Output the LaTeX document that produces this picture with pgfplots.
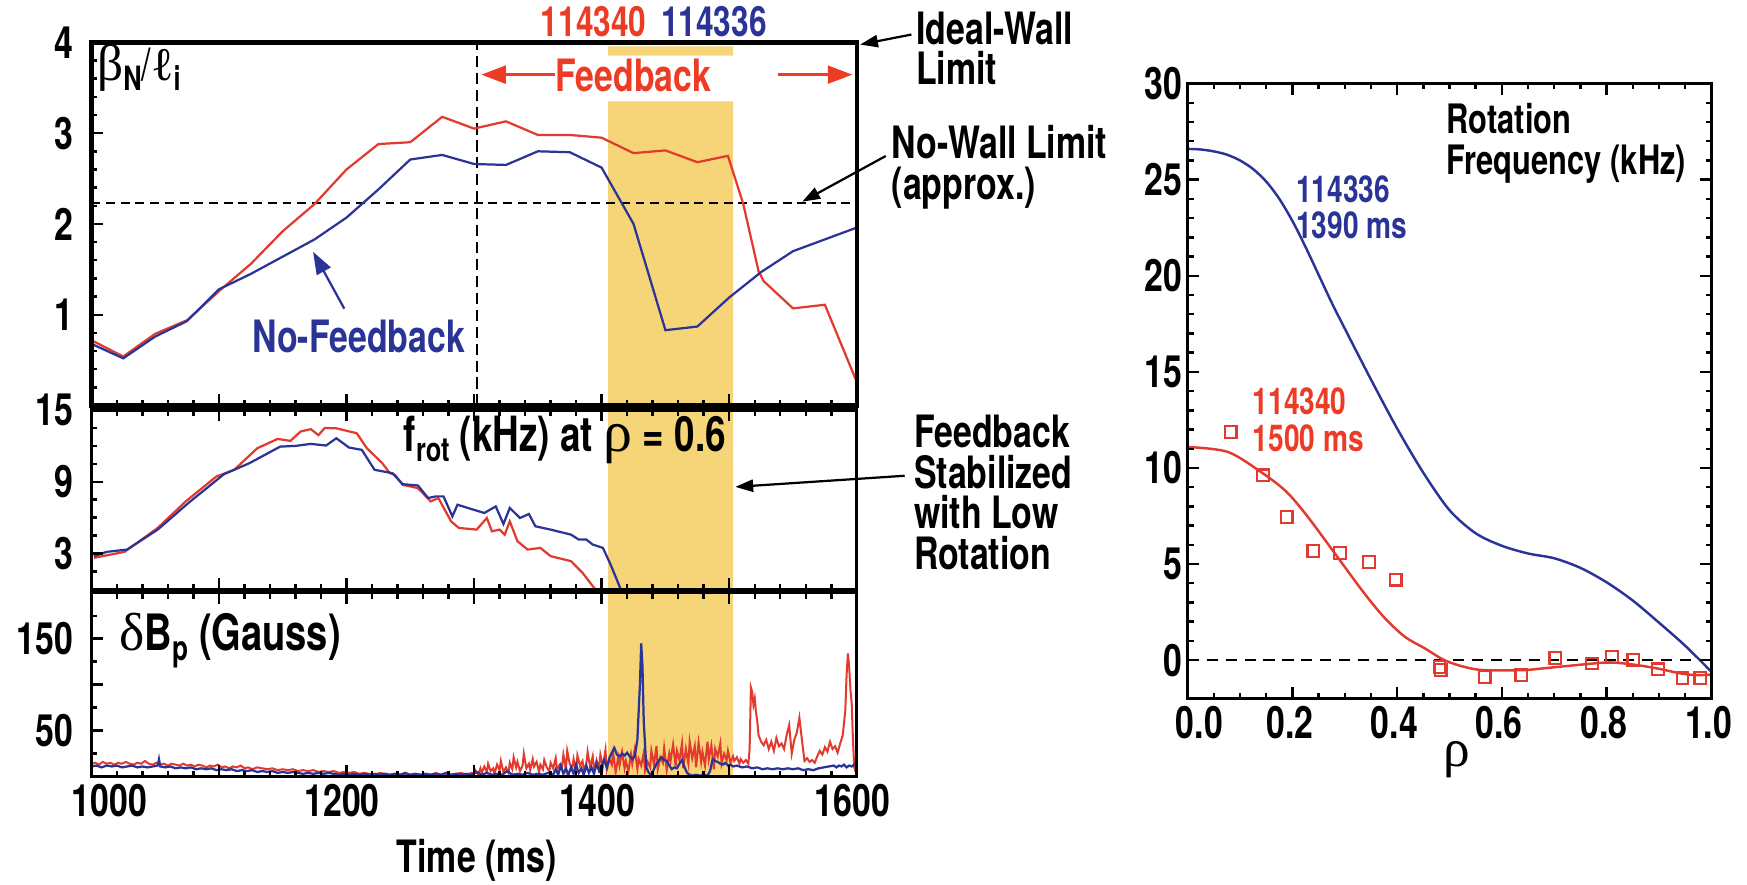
\documentclass[border=0pt]{standalone}
\usepackage{fontspec}
\usepackage{pgfplots}
\pgfplotsset{compat=1.18}
\usetikzlibrary{arrows.meta}

\setmainfont{TeX Gyre Heros}[FakeStretch=0.76]
\newfontfamily\hv{TeX Gyre Heros}[FakeStretch=0.76]
\newfontfamily\gr{Liberation Serif}

\definecolor{shotred}{RGB}{226,58,46}
\definecolor{shotblue}{RGB}{42,52,150}
\definecolor{txtred}{RGB}{236,60,38}
\definecolor{band}{RGB}{246,213,120}

\newcommand\lab{\hv\bfseries\fontsize{20}{20}\selectfont}
\newcommand\ann{\hv\bfseries\fontsize{20}{18.2}\selectfont}

\pgfplotsset{
  panel/.style={
    scale only axis, axis on top,
    axis line style={line width=1.4pt},
    every tick/.style={black, line width=1.1pt},
    major tick length=5pt, minor tick length=2.6pt,
    tick label style={font=\lab},
    /pgf/number format/assume math mode=true,
    /pgf/number format/1000 sep={},
  },
  timeaxis/.style={
    xmin=1000, xmax=1600,
    xtick={1000,1100,1200,1300,1400,1500,1600},
    minor x tick num=4,
    width=343.5pt,
    yticklabel style={xshift=-4.5pt},
  },
}

\begin{document}
\begin{tikzpicture}
\useasboundingbox (0,0) rectangle (784pt,-397pt);

% ---------- beta_N / l_i ----------
\begin{axis}[panel, timeaxis, at={(41pt,-19pt)}, anchor=north west, height=163pt,
  ymin=0, ymax=4, xticklabels={}, xtick pos=left,
  ytick={0,1,2,3,4}, yticklabels={,1,2,3,4}, minor y tick num=4, ytick pos=left,
  axis line style={line width=2pt}]
  \addplot[fill=band, draw=none] coordinates {(1405,0)(1503,0)(1503,3.35)(1405,3.35)(1405,0)};
  \addplot[fill=band, draw=none] coordinates {(1405,3.853)(1503,3.853)(1503,3.956)(1405,3.956)(1405,3.853)};
  \addplot[black, line width=0.9pt, dash pattern=on 4pt off 2.6pt] coordinates {(1000,2.23)(1600,2.23)};
  \addplot[black, line width=0.9pt, dash pattern=on 5pt off 2.6pt] coordinates {(1302,0)(1302,4)};
  % shot 114340
  \addplot[shotred, line width=1pt] coordinates {
    (1000,0.72)(1025,0.54)(1050,0.79)(1075,0.94)(1100,1.26)(1125,1.56)(1150,1.92)
    (1175,2.22)(1200,2.60)(1225,2.88)(1250,2.90)(1275,3.18)(1300,3.05)(1325,3.13)
    (1350,2.98)(1375,2.98)(1400,2.95)(1425,2.78)(1450,2.81)(1475,2.68)(1499,2.75)
    (1511,2.22)(1523,1.48)(1527,1.37)(1550,1.07)(1575,1.11)(1600,0.26)};
  % shot 114336
  \addplot[shotblue, line width=1pt] coordinates {
    (1000,0.68)(1025,0.52)(1050,0.76)(1075,0.93)(1100,1.28)(1125,1.45)(1150,1.64)
    (1175,1.83)(1200,2.07)(1225,2.38)(1250,2.71)(1275,2.76)(1300,2.66)(1325,2.65)
    (1350,2.80)(1375,2.79)(1400,2.62)(1425,2.00)(1450,0.83)(1475,0.87)(1500,1.19)
    (1525,1.47)(1550,1.70)(1575,1.83)(1600,1.96)};
\end{axis}

% ---------- rotation at rho = 0.6 ----------
\begin{axis}[panel, timeaxis, at={(41pt,-184pt)}, anchor=north west, height=80.5pt,
  ymin=0, ymax=15, xticklabels={}, xtick pos=both,
  ytick={3,9,15}, minor ytick={1.5,4.5,6,7.5,10.5,12,13.5}, ytick pos=left]
  \addplot[fill=band, draw=none] coordinates {(1405,0)(1503,0)(1503,15)(1405,15)(1405,0)};
  \addplot[shotred, line width=1pt] coordinates {
    (1002,2.64)(1026,3.14)(1052,5.14)(1074,7.36)(1098,9.44)(1112,10.0)(1130,11.8)
    (1146,12.58)(1156,12.42)(1164,13.2)(1172,13.4)(1178,12.9)(1183,13.5)(1192,13.47)
    (1208,13.06)(1216,11.8)(1228,10.56)(1234,9.72)(1238,9.58)(1244,8.75)(1256,8.47)
    (1266,7.36)(1272,7.64)(1282,5.69)(1288,5.14)(1302,5.0)(1310,5.97)(1314,4.86)
    (1320,5.0)(1324,4.58)(1328,5.69)(1334,4.03)(1342,3.33)(1352,3.47)(1360,2.78)
    (1376,2.36)(1385,1.39)(1395,0)};
  \addplot[shotblue, line width=1pt] coordinates {
    (1002,2.78)(1012,3.14)(1028,3.33)(1052,5.0)(1076,7.22)(1104,9.64)(1124,10.56)
    (1148,11.94)(1160,12.0)(1172,12.17)(1184,12.03)(1192,12.64)(1202,11.86)(1212,11.67)
    (1222,10.0)(1236,9.72)(1244,8.8)(1256,8.69)(1264,7.64)(1270,7.78)(1276,7.78)
    (1283,6.11)(1287,7.08)(1308,6.39)(1317,6.94)(1323,5.47)(1328,6.81)(1336,5.97)
    (1343,6.31)(1348,5.28)(1360,5.0)(1376,4.58)(1382,4.17)(1388,4.17)(1393,3.75)
    (1401,3.47)(1407,2.08)(1415,0)};
\end{axis}

% ---------- delta B_p ----------
\begin{axis}[panel, timeaxis, at={(41pt,-266pt)}, anchor=north west, height=82.5pt,
  ymin=0, ymax=200, xtick pos=both,
  xticklabels={\hspace{20pt}1000,,1200,,1400,,1600},
  xticklabel style={xshift=-2pt},
  ytick={0,50,100,150,200}, yticklabels={,50,,150,}, minor y tick num=1, ytick pos=left]
  \addplot[fill=band, draw=none] coordinates {(1405,0)(1503,0)(1503,200)(1405,200)(1405,0)};
  \addplot[shotred, line width=0.9pt] coordinates {
    (1000,14)(1003,15)(1006,13)(1009,16)(1012,14)(1015,15)(1018,13)(1021,15)(1024,14)
    (1027,16)(1030,14)(1033,13)(1036,15)(1039,14)(1042,17)(1045,14)(1048,13)(1051,15)
    (1054,13)(1057,14)(1060,12)(1063,14)(1066,13)(1069,12)(1072,14)(1075,12)(1078,13)
    (1081,11)(1084,13)(1087,12)(1090,10)(1093,12)(1096,11)(1099,13)(1102,10)(1105,11)
    (1108,9)(1111,11)(1114,10)(1117,12)(1120,9)(1123,10)(1126,8)(1130,10)(1134,9)
    (1138,8)(1142,9)(1146,7)(1150,8)(1154,7)(1158,8)(1162,6)(1166,7)(1170,6)(1174,7)
    (1178,5)(1182,6)(1186,5)(1190,6)(1194,4)(1198,5)(1202,4)(1206,5)(1210,3)(1214,4)
    (1218,3)(1222,2)(1226,4)(1230,3)(1234,2)(1238,3)(1242,2)(1246,3)(1250,2)(1254,3)
    (1258,2)(1262,3)(1266,2)(1270,4)(1274,2)(1278,3)(1282,2)(1286,3)(1290,4)(1294,2)
    (1298,4)(1300,3)(1301,7)(1303,2)(1305,9)(1306,4)(1308,11)(1310,5)(1311,14)(1313,6)
    (1315,9)(1316,3)(1318,13)(1320,7)(1321,17)(1323,5)(1325,10)(1327,4)(1328,15)(1330,8)
    (1331,21)(1333,10)(1334,16)(1336,6)(1338,12)(1339,25)(1341,9)(1343,14)(1344,7)
    (1346,19)(1347,11)(1349,16)(1351,5)(1352,13)(1354,8)(1355,18)(1357,10)(1359,6)
    (1360,15)(1362,9)(1364,20)(1365,7)(1367,13)(1369,11)(1370,24)(1372,8)(1373,28)
    (1375,14)(1377,9)(1378,19)(1380,6)(1381,23)(1383,12)(1385,17)(1386,7)(1388,14)
    (1389,27)(1391,10)(1393,22)(1394,6)(1396,18)(1398,9)(1399,24)(1401,11)(1403,29)
    (1404,7)(1406,19)(1408,13)(1409,26)(1411,5)(1413,21)(1414,12)(1416,27)(1418,9)
    (1419,17)(1421,6)(1423,24)(1424,14)(1426,30)(1428,8)(1429,19)(1431,12)(1433,26)
    (1434,6)(1436,16)(1438,10)(1439,28)(1441,13)(1443,33)(1444,8)(1446,21)(1448,15)
    (1449,31)(1451,7)(1453,25)(1454,17)(1456,35)(1458,11)(1459,28)(1461,18)(1463,36)
    (1464,9)(1466,30)(1468,14)(1469,38)(1471,20)(1473,33)(1474,10)(1476,37)(1478,16)
    (1479,27)(1481,12)(1483,38)(1484,19)(1486,34)(1488,8)(1489,30)(1491,22)(1493,36)
    (1494,14)(1496,25)(1498,18)(1499,28)(1501,15)(1503,22)(1504,17)(1506,21)(1508,14)
    (1509,19)(1511,15)(1513,18)(1515,14)
    (1516,30)(1517,97)(1518,92)(1519,78)(1520,85)(1521,70)(1522,60)(1523,45)(1525,38)
    (1527,34)(1529,40)(1531,30)(1533,38)(1535,28)(1537,42)(1539,33)(1541,36)(1543,30)
    (1545,45)(1547,56)(1549,25)(1551,40)(1553,48)(1555,64)(1557,40)(1559,17)(1561,20)
    (1563,16)(1565,18)(1567,15)(1569,22)(1571,28)(1573,24)(1575,32)(1577,27)(1579,38)
    (1581,30)(1583,33)(1585,26)(1587,36)(1589,45)(1591,72)(1592,110)(1593,134)
    (1594,120)(1595,95)(1596,80)(1597,40)(1598,10)(1599,6)(1600,12)};
  \addplot[shotblue, line width=1pt] coordinates {
    (1000,11)(1004,12)(1008,10)(1012,12)(1016,11)(1020,12)(1024,10)(1028,11)(1032,12)
    (1036,10)(1040,11)(1044,10)(1048,11)(1052,12)(1053,19)(1054,11)(1058,10)(1062,11)
    (1066,9)(1070,10)(1074,9)(1078,10)(1082,8)(1086,9)(1090,8)(1094,9)(1098,7)(1102,8)
    (1106,7)(1110,8)(1114,6)(1118,7)(1122,6)(1126,7)(1130,5)(1134,6)(1138,5)(1142,6)
    (1146,4)(1150,5)(1154,4)(1158,5)(1162,4)(1166,3)(1170,4)(1174,3)(1178,4)(1182,3)
    (1186,4)(1190,3)(1194,2)(1198,3)(1202,2)(1206,3)(1210,2)(1214,3)(1218,2)(1222,3)
    (1226,2)(1230,3)(1234,2)(1238,3)(1242,2)(1246,4)(1250,2)(1254,3)(1258,2)(1262,3)
    (1266,2)(1270,3)(1274,2)(1278,4)(1282,2)(1286,3)(1290,2)(1294,3)(1298,2)(1302,5)
    (1306,2)(1310,4)(1314,2)(1318,3)(1322,2)(1326,6)(1330,2)(1334,3)(1338,2)(1342,4)
    (1346,2)(1350,3)(1354,2)(1358,4)(1362,2)(1364,8)(1366,2)(1368,12)(1370,3)(1372,9)
    (1374,2)(1376,10)(1378,3)(1380,13)(1382,4)(1384,9)(1386,2)(1388,12)(1390,4)
    (1392,10)(1394,3)(1396,14)(1398,6)(1400,12)(1402,18)(1404,10)(1406,20)(1408,26)
    (1410,31)(1412,24)(1414,22)(1416,25)(1418,23)(1420,26)(1422,22)(1424,19)(1426,22)
    (1428,40)(1430,100)(1431,145)(1432,120)(1433,60)(1434,35)(1435,10)(1437,4)(1439,2)
    (1441,8)(1443,14)(1445,18)(1447,21)(1449,18)(1451,17)(1453,12)(1455,8)(1457,10)
    (1459,9)(1461,14)(1463,18)(1465,10)(1467,4)(1469,2)(1471,1)(1474,2)(1477,1)
    (1480,2)(1483,1)(1485,6)(1487,19)(1489,17)(1491,16)(1493,14)(1495,13)(1497,15)
    (1499,12)(1501,13)(1503,11)(1506,12)(1510,10)(1514,11)(1518,9)(1522,10)(1526,8)
    (1530,9)(1534,8)(1538,9)(1542,8)(1546,9)(1550,8)(1554,9)(1558,7)(1562,8)(1566,7)
    (1570,9)(1574,10)(1578,11)(1582,12)(1584,10)(1586,12)(1588,11)(1590,13)(1592,10)
    (1594,12)(1596,11)(1598,13)(1600,12)};
\end{axis}

% ---------- rotation profiles ----------
\begin{axis}[panel, at={(533pt,-37.5pt)}, anchor=north west, width=235pt, height=276pt,
  xmin=0, xmax=1, ymin=-2, ymax=30,
  xtick={0,0.2,0.4,0.6,0.8,1}, xticklabels={\hspace{13pt}0.0,0.2,0.4,0.6,0.8,1.0},
  xticklabel style={xshift=-1.2pt}, minor x tick num=3,
  ytick={0,5,10,15,20,25,30}, minor y tick num=4, tick pos=both,
  yticklabel style={xshift=1pt}]
  \addplot[black, line width=0.9pt, dash pattern=on 5pt off 3.5pt] coordinates {(0,0)(1,0)};
  \addplot[shotblue, line width=1.1pt, smooth] coordinates {
    (0.00,26.6)(0.025,26.57)(0.05,26.47)(0.075,26.3)(0.10,26.0)(0.125,25.55)(0.15,24.9)
    (0.175,24.0)(0.20,22.85)(0.225,21.5)(0.25,20.05)(0.275,18.6)(0.30,17.25)
    (0.35,14.6)(0.40,12.05)(0.45,9.75)(0.50,7.8)(0.55,6.6)(0.60,5.95)(0.65,5.55)
    (0.70,5.3)(0.75,4.8)(0.80,4.05)(0.85,3.1)(0.90,1.95)(0.95,0.75)(1.00,-0.6)};
  \addplot[shotred, line width=1.1pt, smooth] coordinates {
    (0,11.09)(0.077,10.83)(0.144,9.71)(0.189,8.75)(0.227,7.54)(0.265,6.15)(0.302,4.77)
    (0.34,3.38)(0.377,2.17)(0.415,1.21)(0.453,0.61)(0.49,0.0)(0.528,-0.35)(0.565,-0.52)
    (0.64,-0.52)(0.678,-0.43)(0.753,-0.23)(0.806,-0.12)(0.851,-0.23)(0.896,-0.43)
    (0.941,-0.69)(0.971,-0.78)(1.0,-0.75)};
  \addplot[shotred, only marks, mark=square, mark size=2.6pt, mark options={line width=1pt}] coordinates {
    (0.082,11.87)(0.144,9.62)(0.189,7.45)(0.24,5.68)(0.291,5.58)(0.346,5.11)(0.397,4.19)
    (0.481,-0.35)(0.483,-0.52)(0.567,-0.87)(0.637,-0.78)(0.702,0.12)(0.772,-0.17)
    (0.81,0.17)(0.851,0.0)(0.898,-0.47)(0.945,-0.92)(0.979,-0.92)};
\end{axis}

% ---------- labels (multi-line nodes are placed at the baseline of their last line) ----------
\node[anchor=base west, inner sep=0pt, txtred, font=\hv\bfseries\fontsize{18.7}{18.7}\selectfont] at (242.5pt,-16.5pt) {114340};
\node[anchor=base west, inner sep=0pt, shotblue, font=\hv\bfseries\fontsize{18.7}{18.7}\selectfont] at (296.5pt,-16.5pt) {114336};
\node[anchor=base west, inner sep=0pt, txtred, font=\ann] at (249pt,-41pt) {Feedback};
\draw[txtred, line width=1.2pt, -{Triangle[length=11pt,width=8pt]}] (249pt,-33.5pt) -- (216pt,-33.5pt);
\draw[txtred, line width=1.2pt, -{Triangle[length=11pt,width=8pt]}] (349pt,-33.5pt) -- (382.5pt,-33.5pt);

\node[anchor=base west, inner sep=0pt] at (43.5pt,-36pt)
  {{\gr\fontsize{23}{23}\selectfont β}\raisebox{-4.5pt}{\hv\bfseries\fontsize{15}{15}\selectfont N}{\hv\fontsize{20}{20}\selectfont /}{\gr\fontsize{21}{21}\selectfont ℓ}\raisebox{-4.5pt}{\hv\bfseries\fontsize{15}{15}\selectfont i}};

\node[anchor=base west, inner sep=0pt, shotblue, font=\ann] at (113pt,-158pt) {No-Feedback};
\draw[shotblue, line width=1pt, -{Triangle[length=10pt,width=7pt]}] (154.5pt,-138.5pt) -- (140.5pt,-113pt);

\node[anchor=base west, inner sep=0pt, font=\ann, align=left] at (411pt,-38pt) {Ideal-Wall\\Limit};
\draw[black, line width=1pt, -{Triangle[length=8pt,width=5.5pt]}] (409pt,-15.5pt) -- (386pt,-20pt);

\node[anchor=base west, inner sep=0pt, font=\ann, align=left] at (400pt,-89.5pt) {No-Wall Limit\\(approx.)};
\draw[black, line width=1pt, -{Triangle[length=8pt,width=5.5pt]}] (397.5pt,-70pt) -- (360pt,-90.5pt);

\node[anchor=base west, inner sep=0pt, font=\ann, align=left] at (410pt,-255.5pt) {Feedback\\Stabilized\\with Low\\Rotation};
\draw[black, line width=1pt, -{Triangle[length=8pt,width=5.5pt]}] (406pt,-213.5pt) -- (330pt,-218.5pt);

\node[anchor=base west, inner sep=0pt, font=\hv\bfseries\fontsize{21.8}{21.8}\selectfont] at (181pt,-202.5pt)
  {f\raisebox{-4.5pt}{\fontsize{15}{15}\selectfont rot} (kHz) at {\gr\mdseries\fontsize{26}{26}\selectfont ρ} = 0.6};

\node[anchor=base west, inner sep=0pt, font=\hv\bfseries\fontsize{22.5}{22.5}\selectfont] at (53.5pt,-292pt)
  {{\gr\mdseries\fontsize{24}{24}\selectfont δ}B\raisebox{-4.5pt}{\fontsize{15.5}{15.5}\selectfont p} (Gauss)};

\node[anchor=base, inner sep=0pt, font=\lab] at (214pt,-391.5pt) {Time (ms)};

\node[anchor=base west, inner sep=0pt, font=\hv\bfseries\fontsize{18.2}{18.5}\selectfont, align=left] at (649pt,-78.5pt) {Rotation\\Frequency (kHz)};
\node[anchor=base west, inner sep=0pt, shotblue, font=\hv\bfseries\fontsize{16.6}{16}\selectfont, align=left] at (581.5pt,-107pt) {114336\\1390 ms};
\node[anchor=base west, inner sep=0pt, txtred, font=\hv\bfseries\fontsize{16.6}{16.5}\selectfont, align=left] at (562pt,-202.5pt) {114340\\1500 ms};
\node[anchor=base, inner sep=0pt, font=\gr\fontsize{24}{24}\selectfont] at (654pt,-344pt) {ρ};
\end{tikzpicture}
\end{document}
